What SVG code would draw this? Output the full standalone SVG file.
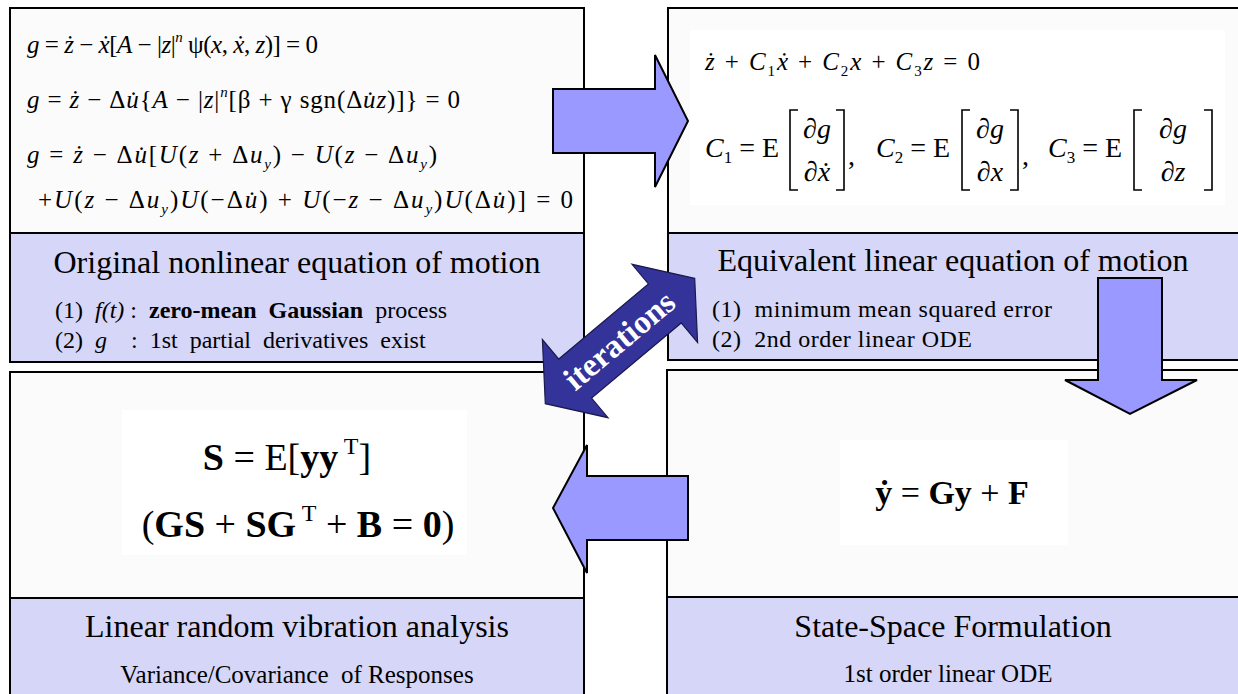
<svg xmlns="http://www.w3.org/2000/svg" width="1238" height="694" viewBox="0 0 1238 694">
<style>
.box{fill:#fbfbfb;stroke:#000;stroke-width:2}
.band{fill:#d6d6f8;stroke:#000;stroke-width:2}
.img{fill:#fff}
.arr{fill:#9999ff;stroke:#000;stroke-width:2}
.iter{fill:#333399;stroke:#1a1a4d;stroke-width:1.2}
.brk{fill:none;stroke:#000;stroke-width:1.6}
text{font-family:"Liberation Serif","Times New Roman",serif;fill:#000}
.title{font-size:32px;text-anchor:middle}
.item{font-size:24px}
.sub{font-size:25px;text-anchor:middle}
.eq{font-size:25px}
.eq2{font-size:28px}
.f{font-size:38px}
.f2{font-size:34px}
.i{font-style:italic}
.b{font-weight:bold}
.n{font-weight:normal}
.sm{font-size:15px}
.sm2{font-size:17px}
.sm3{font-size:24px}
.it{font-size:33px;font-weight:bold;fill:#fff;text-anchor:middle}
</style>
<rect x="0" y="0" width="1238" height="694" fill="#fff"/>

<g id="node-original">
<rect class="box" x="10" y="8" width="574" height="354"/>
<rect class="band" x="10" y="233" width="574" height="129"/>
<text class="eq" x="27" y="53" textLength="291"><tspan class="i">g</tspan> = <tspan class="i">ż</tspan> − <tspan class="i">ẋ</tspan>[<tspan class="i">A</tspan> − |<tspan class="i">z</tspan>|<tspan class="i sm" dy="-11">n</tspan><tspan dy="11"> ψ(</tspan><tspan class="i">x</tspan>, <tspan class="i">ẋ</tspan>, <tspan class="i">z</tspan>)] = 0</text>
<text class="eq" x="27" y="108" textLength="433"><tspan class="i">g</tspan> = <tspan class="i">ż</tspan> − Δ<tspan class="i">u̇</tspan>{<tspan class="i">A</tspan> − |<tspan class="i">z</tspan>|<tspan class="i sm" dy="-11">n</tspan><tspan dy="11">[β + γ sgn(Δ</tspan><tspan class="i">u̇z</tspan>)]} = 0</text>
<text class="eq" x="27" y="163" textLength="410"><tspan class="i">g</tspan> = <tspan class="i">ż</tspan> − Δ<tspan class="i">u̇</tspan>[<tspan class="i">U</tspan>(<tspan class="i">z</tspan> + Δ<tspan class="i">u</tspan><tspan class="i sm" dy="6">y</tspan><tspan dy="-6">) − </tspan><tspan class="i">U</tspan>(<tspan class="i">z</tspan> − Δ<tspan class="i">u</tspan><tspan class="i sm" dy="6">y</tspan><tspan dy="-6">)</tspan></text>
<text class="eq" x="38" y="208" textLength="535">+<tspan class="i">U</tspan>(<tspan class="i">z</tspan> − Δ<tspan class="i">u</tspan><tspan class="i sm" dy="6">y</tspan><tspan dy="-6">)</tspan><tspan class="i">U</tspan>(−Δ<tspan class="i">u̇</tspan>) + <tspan class="i">U</tspan>(−<tspan class="i">z</tspan> − Δ<tspan class="i">u</tspan><tspan class="i sm" dy="6">y</tspan><tspan dy="-6">)</tspan><tspan class="i">U</tspan>(Δ<tspan class="i">u̇</tspan>)] = 0</text>
<text class="title" x="297" y="273">Original nonlinear equation of motion</text>
<text class="item" x="55" y="318" xml:space="preserve">(1)  <tspan class="i">f(t)</tspan> :  <tspan class="b">zero-mean  Gaussian</tspan>  process</text>
<text class="item" x="55" y="348" xml:space="preserve">(2)  <tspan class="i">g</tspan>    :  1st  partial  derivatives  exist</text>
</g>

<g id="node-equivalent">
<rect class="box" x="668" y="8" width="580" height="352"/>
<rect class="img" x="690" y="30" width="535" height="175"/>
<rect class="band" x="668" y="233" width="580" height="127"/>
<text class="eq" x="705" y="70" textLength="275"><tspan class="i">ż</tspan> + <tspan class="i">C</tspan><tspan class="sm" dy="6">1</tspan><tspan class="i" dy="-6">ẋ</tspan> + <tspan class="i">C</tspan><tspan class="sm" dy="6">2</tspan><tspan class="i" dy="-6">x</tspan> + <tspan class="i">C</tspan><tspan class="sm" dy="6">3</tspan><tspan class="i" dy="-6">z</tspan> = 0</text>
<text class="eq2" x="705" y="157"><tspan class="i">C</tspan><tspan class="sm2" dy="6">1</tspan><tspan dy="-6"> = E</tspan></text>
<path class="brk" d="M798,110 H790 V190 H798 M836,110 H844 V190 H836"/>
<text class="eq2 i" x="817" y="138" text-anchor="middle">∂g</text>
<text class="eq2 i" x="817" y="181" text-anchor="middle">∂ẋ</text>
<text class="eq2" x="848" y="165">,</text>
<text class="eq2" x="876" y="157"><tspan class="i">C</tspan><tspan class="sm2" dy="6">2</tspan><tspan dy="-6"> = E</tspan></text>
<path class="brk" d="M970,110 H962 V190 H970 M1010,110 H1018 V190 H1010"/>
<text class="eq2 i" x="990" y="138" text-anchor="middle">∂g</text>
<text class="eq2 i" x="990" y="181" text-anchor="middle">∂x</text>
<text class="eq2" x="1022" y="165">,</text>
<text class="eq2" x="1048" y="157"><tspan class="i">C</tspan><tspan class="sm2" dy="6">3</tspan><tspan dy="-6"> = E</tspan></text>
<path class="brk" d="M1142,110 H1134 V190 H1142 M1204,110 H1212 V190 H1204"/>
<text class="eq2 i" x="1173" y="138" text-anchor="middle">∂g</text>
<text class="eq2 i" x="1173" y="181" text-anchor="middle">∂z</text>
<text class="title" x="953" y="271">Equivalent linear equation of motion</text>
<text class="item" x="712" y="317" xml:space="preserve" textLength="340">(1)  minimum mean squared error</text>
<text class="item" x="712" y="347" xml:space="preserve" textLength="260">(2)  2nd order linear ODE</text>
</g>

<g id="node-linear-random">
<rect class="box" x="10" y="372" width="574" height="330"/>
<rect class="img" x="122" y="410" width="345" height="145"/>
<rect class="band" x="10" y="598" width="574" height="104"/>
<text class="f" x="287" y="470" text-anchor="middle"><tspan class="b">S</tspan> = E[<tspan class="b">yy</tspan><tspan class="sm3" dy="-16"> T</tspan><tspan dy="16">]</tspan></text>
<text class="f" x="298" y="537" text-anchor="middle">(<tspan class="b">GS</tspan> + <tspan class="b">SG</tspan><tspan class="sm3" dy="-16"> T</tspan><tspan dy="16"> + </tspan><tspan class="b">B</tspan> = <tspan class="b">0</tspan>)</text>
<text class="title" x="297" y="637">Linear random vibration analysis</text>
<text class="sub" x="297" y="683" xml:space="preserve">Variance/Covariance  of Responses</text>
</g>

<g id="node-state-space">
<rect class="box" x="667" y="370" width="580" height="332"/>
<rect class="img" x="840" y="440" width="228" height="105"/>
<rect class="band" x="667" y="597" width="580" height="105"/>
<text class="f2 b" x="952" y="504" text-anchor="middle">ẏ <tspan class="n">=</tspan> Gy <tspan class="n">+</tspan> F</text>
<text class="title" x="953" y="637">State-Space Formulation</text>
<text class="sub" x="948" y="682">1st order linear ODE</text>
</g>

<g id="connectors">
<polygon class="arr" points="553,89 655,89 655,55 688,121 655,187 655,153 553,153"/>
<polygon class="arr" points="1098,278 1162,278 1162,380 1197,380 1130,414 1065,380 1098,380"/>
<polygon class="arr" points="688,476 587,476 587,445 553,508 587,573 587,540 688,540"/>
<g id="iterations" transform="translate(620,341) rotate(-40)">
<polygon class="iter" points="97.5,0 58.5,-51 58.5,-25.5 -58.5,-25.5 -58.5,-51 -97.5,0 -58.5,51 -58.5,25.5 58.5,25.5 58.5,51"/>
<text class="it" x="0" y="10">iterations</text>
</g>
</g>
</svg>
